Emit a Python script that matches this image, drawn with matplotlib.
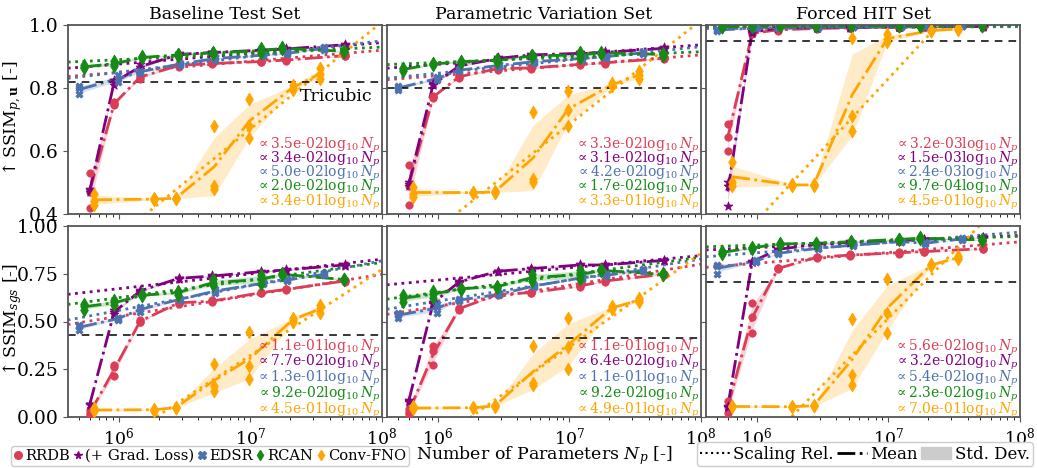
import numpy as np
import matplotlib.pyplot as plt
from matplotlib.lines import Line2D
from matplotlib.patches import Patch

plt.rcParams['font.family'] = ['DejaVu Serif']
plt.rcParams['mathtext.fontset'] = 'dejavuserif'
plt.rcParams['font.size'] = 11

# model names / parameter counts
models = ["RRDB", "(+ Grad. Loss)", "EDSR", "RCAN", "Conv-FNO"]
colors = ["#dc3d56", "#800080", "#4c72b0", "#158a15", "#ffa500"]
markers = ["o", "*", "X", "d", "d"]

n_rrdb = [6.0e5, 9.2e5, 1.45e6, 2.85e6, 5.1e6, 1.2e7, 1.85e7, 5.2e7]
n_grad = [6.0e5, 9.2e5, 1.45e6, 2.85e6, 5.1e6, 1.2e7, 1.85e7, 5.2e7]
n_edsr = [5.0e5, 9.8e5, 1.45e6, 2.9e6, 5.4e6, 1.24e7, 1.9e7, 3.6e7]
n_rcan = [5.4e5, 9.2e5, 1.5e6, 2.8e6, 5.2e6, 1.2e7, 1.75e7, 5.1e7]
n_fno = [6.5e5, 1.85e6, 2.7e6, 5.3e6, 9.8e6, 2.1e7, 3.4e7]

# ---- SSIM_pu, Baseline Test Set (runs per model size)
base_pu_rrdb = [[0.53, 0.47, 0.42], [0.755, 0.75, 0.745], [0.84, 0.835, 0.83], [0.875, 0.872, 0.868],
                [0.88, 0.878, 0.875], [0.886, 0.884, 0.882], [0.89, 0.889, 0.887], [0.905, 0.903, 0.9]]
base_pu_grad = [[0.48, 0.475, 0.47], [0.825, 0.82, 0.81], [0.875, 0.868, 0.86], [0.91, 0.907, 0.903],
                [0.915, 0.913, 0.91], [0.922, 0.92, 0.918], [0.926, 0.924, 0.922], [0.94, 0.937, 0.935]]
base_pu_edsr = [[0.805, 0.80, 0.78], [0.84, 0.83, 0.82], [0.855, 0.852, 0.848], [0.88, 0.876, 0.872],
                [0.897, 0.894, 0.89], [0.908, 0.905, 0.9], [0.913, 0.91, 0.907], [0.93, 0.926, 0.922]]
base_pu_rcan = [[0.872, 0.868, 0.862], [0.885, 0.876, 0.87], [0.9, 0.897, 0.894], [0.908, 0.905, 0.902],
                [0.915, 0.912, 0.909], [0.927, 0.918, 0.91], [0.929, 0.926, 0.923], [0.92, 0.917, 0.913]]
base_pu_fno = [[0.465, 0.44, 0.43], [0.45, 0.447, 0.445], [0.452, 0.45, 0.448], [0.68, 0.49, 0.48],
               [0.765, 0.68, 0.64], [0.81, 0.80, 0.795], [0.862, 0.845, 0.83]]
base_pu_slope = [0.035, 0.034, 0.050, 0.020, 0.34]
base_pu_at1e6 = [0.85, 0.876, 0.85, 0.89, 0.33]

# ---- SSIM_pu, Parametric Variation Set
para_pu_rrdb = [[0.555, 0.49, 0.43], [0.775, 0.772, 0.768], [0.84, 0.836, 0.832], [0.865, 0.862, 0.858],
                [0.867, 0.864, 0.86], [0.878, 0.875, 0.872], [0.883, 0.88, 0.877], [0.897, 0.894, 0.891]]
para_pu_grad = [[0.50, 0.495, 0.49], [0.815, 0.812, 0.808], [0.873, 0.87, 0.866], [0.897, 0.894, 0.891],
                [0.908, 0.905, 0.902], [0.913, 0.91, 0.907], [0.916, 0.913, 0.91], [0.929, 0.926, 0.923]]
para_pu_edsr = [[0.805, 0.80, 0.795], [0.835, 0.83, 0.825], [0.86, 0.857, 0.853], [0.875, 0.872, 0.868],
                [0.887, 0.884, 0.88], [0.897, 0.894, 0.89], [0.903, 0.90, 0.896], [0.915, 0.912, 0.908]]
para_pu_rcan = [[0.862, 0.859, 0.855], [0.88, 0.876, 0.872], [0.887, 0.884, 0.88], [0.891, 0.888, 0.884],
                [0.906, 0.902, 0.898], [0.915, 0.905, 0.895], [0.915, 0.912, 0.909], [0.91, 0.907, 0.903]]
para_pu_fno = [[0.485, 0.465, 0.455], [0.47, 0.468, 0.466], [0.472, 0.47, 0.468], [0.725, 0.51, 0.50],
               [0.79, 0.73, 0.68], [0.815, 0.81, 0.805], [0.855, 0.84, 0.83]]
para_pu_slope = [0.033, 0.031, 0.042, 0.017, 0.33]
para_pu_at1e6 = [0.839, 0.875, 0.847, 0.881, 0.355]

# ---- SSIM_pu, Forced HIT Set
hit_pu_rrdb = [[0.685, 0.645, 0.60], [0.977, 0.974, 0.97], [0.987, 0.985, 0.982], [0.99, 0.989, 0.988],
               [0.992, 0.991, 0.99], [0.994, 0.993, 0.992], [0.995, 0.994, 0.993], [0.996, 0.995, 0.994]]
hit_pu_grad = [[0.50, 0.49, 0.425], [0.98, 0.978, 0.975], [0.991, 0.99, 0.989], [0.993, 0.992, 0.991],
               [0.994, 0.993, 0.992], [0.995, 0.994, 0.993], [0.996, 0.995, 0.994], [0.997, 0.996, 0.995]]
hit_pu_edsr = [[0.986, 0.984, 0.982], [0.991, 0.99, 0.989], [0.993, 0.992, 0.991], [0.994, 0.993, 0.992],
               [0.995, 0.994, 0.993], [0.996, 0.995, 0.994], [0.996, 0.996, 0.995], [0.997, 0.996, 0.996]]
hit_pu_rcan = [[0.995, 0.994, 0.993], [0.997, 0.996, 0.995], [0.997, 0.996, 0.996], [0.998, 0.997, 0.996],
               [0.998, 0.997, 0.996], [0.998, 0.997, 0.997], [0.998, 0.997, 0.997], [0.998, 0.997, 0.997]]
hit_pu_fno = [[0.565, 0.50, 0.49], [0.495, 0.492, 0.49], [0.495, 0.492, 0.49], [0.96, 0.71, 0.665],
              [0.97, 0.955, 0.945], [0.985, 0.982, 0.98], [0.99, 0.987, 0.985]]
hit_pu_slope = [0.0032, 0.0015, 0.0024, 0.00097, 0.45]
hit_pu_at1e6 = [0.99, 0.993, 0.99, 0.996, 0.38]

# ---- SSIM_sgs, Baseline Test Set
base_sgs_rrdb = [[0.035, 0.02, 0.01], [0.27, 0.26, 0.215], [0.51, 0.50, 0.495], [0.603, 0.598, 0.593],
                 [0.61, 0.607, 0.603], [0.655, 0.651, 0.647], [0.672, 0.668, 0.664], [0.716, 0.712, 0.708]]
base_sgs_grad = [[0.07, 0.066, 0.062], [0.56, 0.55, 0.54], [0.665, 0.66, 0.655], [0.73, 0.726, 0.722],
                 [0.742, 0.738, 0.734], [0.765, 0.761, 0.757], [0.774, 0.77, 0.766], [0.8, 0.796, 0.792]]
base_sgs_edsr = [[0.48, 0.475, 0.455], [0.52, 0.515, 0.51], [0.575, 0.565, 0.55], [0.62, 0.616, 0.612],
                 [0.67, 0.66, 0.65], [0.705, 0.70, 0.695], [0.722, 0.717, 0.712], [0.752, 0.747, 0.742]]
base_sgs_rcan = [[0.59, 0.58, 0.56], [0.61, 0.60, 0.585], [0.642, 0.637, 0.632], [0.66, 0.655, 0.64],
                 [0.72, 0.70, 0.69], [0.745, 0.72, 0.695], [0.752, 0.747, 0.742], [0.725, 0.72, 0.715]]
base_sgs_fno = [[0.045, 0.035, 0.03], [0.042, 0.038, 0.034], [0.053, 0.049, 0.045], [0.28, 0.16, 0.135],
                [0.445, 0.265, 0.20], [0.52, 0.51, 0.50], [0.585, 0.57, 0.545]]
base_sgs_slope = [0.11, 0.077, 0.13, 0.092, 0.45]
base_sgs_at1e6 = [0.527, 0.672, 0.558, 0.625, -0.127]

# ---- SSIM_sgs, Parametric Variation Set
para_sgs_rrdb = [[0.04, 0.025, 0.015], [0.37, 0.345, 0.27], [0.572, 0.567, 0.562], [0.646, 0.642, 0.638],
                 [0.655, 0.651, 0.647], [0.69, 0.686, 0.682], [0.716, 0.712, 0.708], [0.751, 0.747, 0.743]]
para_sgs_grad = [[0.088, 0.084, 0.08], [0.602, 0.598, 0.594], [0.711, 0.707, 0.703], [0.767, 0.763, 0.759],
                 [0.781, 0.777, 0.773], [0.80, 0.796, 0.792], [0.80, 0.796, 0.792], [0.824, 0.82, 0.816]]
para_sgs_edsr = [[0.545, 0.535, 0.52], [0.59, 0.575, 0.545], [0.617, 0.612, 0.607], [0.647, 0.642, 0.637],
                 [0.691, 0.686, 0.681], [0.734, 0.729, 0.724], [0.747, 0.742, 0.737], [0.773, 0.768, 0.763]]
para_sgs_rcan = [[0.64, 0.625, 0.60], [0.66, 0.645, 0.625], [0.677, 0.672, 0.667], [0.687, 0.682, 0.677],
                 [0.75, 0.73, 0.71], [0.77, 0.745, 0.72], [0.773, 0.768, 0.763], [0.752, 0.747, 0.742]]
para_sgs_fno = [[0.055, 0.045, 0.04], [0.053, 0.049, 0.045], [0.062, 0.058, 0.054], [0.37, 0.18, 0.165],
                [0.52, 0.365, 0.25], [0.58, 0.57, 0.565], [0.625, 0.61, 0.60]]
para_sgs_slope = [0.11, 0.064, 0.11, 0.092, 0.49]
para_sgs_at1e6 = [0.58, 0.717, 0.607, 0.653, -0.123]

# ---- SSIM_sgs, Forced HIT Set
hit_sgs_rrdb = [[0.085, 0.05, 0.02], [0.595, 0.525, 0.44], [0.782, 0.778, 0.774], [0.84, 0.836, 0.832],
                [0.852, 0.848, 0.844], [0.864, 0.86, 0.856], [0.87, 0.866, 0.862], [0.885, 0.881, 0.877]]
hit_sgs_grad = [[0.058, 0.054, 0.05], [0.817, 0.813, 0.809], [0.882, 0.878, 0.874], [0.908, 0.904, 0.90],
                [0.919, 0.915, 0.911], [0.927, 0.923, 0.919], [0.934, 0.93, 0.926], [0.945, 0.941, 0.937]]
hit_sgs_edsr = [[0.795, 0.79, 0.75], [0.821, 0.817, 0.813], [0.861, 0.857, 0.853], [0.887, 0.883, 0.879],
                [0.904, 0.90, 0.896], [0.922, 0.918, 0.914], [0.914, 0.91, 0.906], [0.936, 0.932, 0.928]]
hit_sgs_rcan = [[0.87, 0.86, 0.855], [0.89, 0.886, 0.882], [0.91, 0.906, 0.902], [0.913, 0.909, 0.905],
                [0.922, 0.918, 0.914], [0.934, 0.93, 0.926], [0.94, 0.936, 0.932], [0.931, 0.927, 0.923]]
hit_sgs_fno = [[0.06, 0.055, 0.05], [0.058, 0.054, 0.05], [0.063, 0.059, 0.055], [0.515, 0.22, 0.17],
               [0.725, 0.545, 0.44], [0.80, 0.795, 0.79], [0.845, 0.835, 0.825]]
hit_sgs_slope = [0.056, 0.032, 0.054, 0.023, 0.70]
hit_sgs_at1e6 = [0.805, 0.887, 0.86, 0.90, -0.183]

# tricubic baseline per panel (row-major)
tricubic = [0.82, 0.80, 0.95, 0.43, 0.415, 0.705]
titles = ["Baseline Test Set", "Parametric Variation Set", "Forced HIT Set"]

sizes = [n_rrdb, n_grad, n_edsr, n_rcan, n_fno]
panels = [
    [base_pu_rrdb, base_pu_grad, base_pu_edsr, base_pu_rcan, base_pu_fno],
    [para_pu_rrdb, para_pu_grad, para_pu_edsr, para_pu_rcan, para_pu_fno],
    [hit_pu_rrdb, hit_pu_grad, hit_pu_edsr, hit_pu_rcan, hit_pu_fno],
    [base_sgs_rrdb, base_sgs_grad, base_sgs_edsr, base_sgs_rcan, base_sgs_fno],
    [para_sgs_rrdb, para_sgs_grad, para_sgs_edsr, para_sgs_rcan, para_sgs_fno],
    [hit_sgs_rrdb, hit_sgs_grad, hit_sgs_edsr, hit_sgs_rcan, hit_sgs_fno],
]
slopes = [base_pu_slope, para_pu_slope, hit_pu_slope, base_sgs_slope, para_sgs_slope, hit_sgs_slope]
at1e6 = [base_pu_at1e6, para_pu_at1e6, hit_pu_at1e6, base_sgs_at1e6, para_sgs_at1e6, hit_sgs_at1e6]

W, H = 1037, 468
fig = plt.figure(figsize=(W / 100, H / 100), dpi=100)

lefts = [68, 387, 706]
pw = 314
rows = [(25, 214), (226, 417)]
axes = []
for r, (top, bot) in enumerate(rows):
    for c in range(3):
        ax = fig.add_axes([lefts[c] / W, 1 - bot / H, pw / W, (bot - top) / H])
        axes.append(ax)

msize = {"o": 28, "*": 45, "X": 26, "d": 42}
nline = np.logspace(5.5, 8.1, 100)
for i, ax in enumerate(axes):
    r, c = divmod(i, 3)
    for m in range(5):
        N = np.array(sizes[m])
        runs = panels[i][m]
        mean = np.array([np.mean(v) for v in runs])
        std = np.array([np.std(v) for v in runs])
        ax.fill_between(N, mean - std, mean + std, color=colors[m], alpha=0.22, lw=0)
        ax.plot(N, mean, ls="-.", color=colors[m], lw=2)
        for n, v in zip(N, runs):
            ax.scatter([n] * len(v), v, marker=markers[m], color=colors[m],
                       s=msize[markers[m]], zorder=3, lw=0.6)
        # scaling relation
        a, y6 = slopes[i][m], at1e6[i][m]
        ax.plot(nline, y6 + a * (np.log10(nline) - 6), ls=":", color=colors[m], lw=2)
        ytxt = [0.365, 0.29, 0.215, 0.14, 0.063] if r == 0 else [0.366, 0.284, 0.202, 0.12, 0.037]
        ax.text(0.995, ytxt[m], r"$\propto$" + f"{a:.1e}" + r"$\log_{10}N_p$", color=colors[m],
                transform=ax.transAxes, ha="right", va="center", fontsize=10)
    ax.axhline(tricubic[i], color="black", ls=(0, (5, 4)), lw=1.1)
    ax.set_xscale("log")
    ax.set_xlim(4.1e5, 1e8)
    for s in ax.spines.values():
        s.set_color("#555555")
        s.set_linewidth(1.3)
    ax.tick_params(colors="#555555", labelcolor="black")
    ax.tick_params(axis="y", labelsize=13.5, pad=3)
    ax.tick_params(axis="x", labelsize=12.5, pad=3)
    if r == 0:
        ax.set_ylim(0.4, 1.0)
        ax.set_yticks([0.4, 0.6, 0.8, 1.0])
        ax.set_title(titles[c], fontsize=12.5, pad=4)
        ax.tick_params(labelbottom=False)
    else:
        ax.set_ylim(0.0, 1.0)
        ax.set_yticks([0.0, 0.25, 0.5, 0.75, 1.0])
    if c > 0:
        ax.tick_params(labelleft=False)

axes[0].text(0.97, 0.62, "Tricubic", transform=axes[0].transAxes, ha="right", va="center", fontsize=12.5)
axes[0].set_ylabel(r"$\uparrow$SSIM$_{p,\mathbf{u}}$ [-]", fontsize=12.5)
axes[3].set_ylabel(r"$\uparrow$SSIM$_{sgs}$ [-]", fontsize=12.5)
axes[0].yaxis.set_label_coords(-0.14, 0.5)
axes[3].yaxis.set_label_coords(-0.14, 0.5)
axes[4].set_xlabel(r"Number of Parameters $N_p$ [-]", fontsize=12.5)
axes[4].xaxis.set_label_coords(0.5, -0.14)

h1 = [Line2D([], [], ls="", marker=markers[m], color=colors[m], markersize=5.5) for m in range(5)]
fig.legend(h1, models, loc="lower left", bbox_to_anchor=(11 / W, 2 / H), ncol=5, fontsize=10.6,
           handlelength=0.6, handletextpad=0.2, columnspacing=0.2, borderpad=0.2, borderaxespad=0,
           framealpha=1, edgecolor="#cccccc")
h2 = [Line2D([], [], ls=":", color="black", lw=1.5),
      Line2D([], [], ls="-.", color="black", lw=2),
      Patch(color="#cccccc")]
fig.legend(h2, ["Scaling Rel.", "Mean", "Std. Dev."], loc="lower right", bbox_to_anchor=(1033 / W, 2 / H),
           ncol=3, fontsize=12, handlelength=1.8, handletextpad=0.2, columnspacing=0.2, borderpad=0.2,
           borderaxespad=0, framealpha=1, edgecolor="#cccccc")

fig.savefig("out.png", dpi=100)
